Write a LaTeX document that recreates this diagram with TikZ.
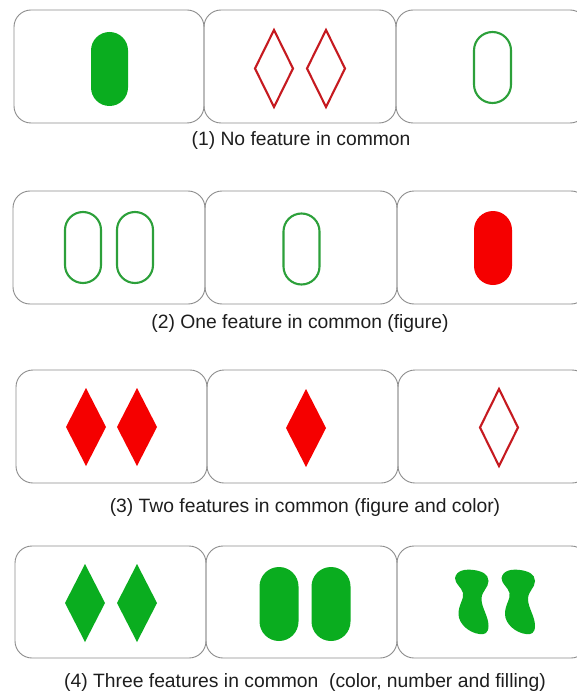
\documentclass[tikz,border=0pt]{standalone}
\usepackage{fontspec}
\setmainfont{Liberation Sans}
\definecolor{gfill}{RGB}{10,173,31}
\definecolor{gline}{RGB}{44,160,58}
\definecolor{rfill}{RGB}{245,0,0}
\definecolor{rline}{RGB}{198,26,32}
\definecolor{cardline}{RGB}{140,140,140}
\definecolor{captxt}{RGB}{30,30,30}
\tikzset{
  card/.style={draw=cardline, line width=0.9pt, rounded corners=17pt},
  caption/.style={inner sep=0pt, text=captxt, font=\fontsize{19.3}{22}\selectfont},
  outl/.style={line width=2.1pt},
}
% pill: #1 style, #2 cx, #3 cy, #4 width, #5 height
\newcommand\pillshape[5]{%
  \path[#1, rounded corners={#4*0.5pt-0.01pt}] ({#2-#4/2},{#3-#5/2}) rectangle ({#2+#4/2},{#3+#5/2});}
% diamond: #1 style, #2 cx, #3 cy, #4 width, #5 height
\newcommand\diashape[5]{%
  \path[#1, line join=miter] ({#2},{#3-#5/2}) -- ({#2+#4/2},{#3}) -- ({#2},{#3+#5/2}) -- ({#2-#4/2},{#3}) -- cycle;}
% squiggle: #1 style, #2 cx, #3 cy
\newcommand\squigshape[3]{%
  \path[#1, shift={(#2,#3)}]
    (-16.5,-24) .. controls (-15,-32) and (-6,-33) .. (2,-32)
    .. controls (10,-31) and (17,-28) .. (17,-21)
    .. controls (17,-14) and (10,-11) .. (10,-3)
    .. controls (10,6) and (17,14) .. (17,24)
    .. controls (17,31) and (13,33) .. (8,32)
    .. controls (-2,31) and (-13,22) .. (-13,12)
    .. controls (-13,2) and (-7,-3) .. (-8.5,-9)
    .. controls (-10,-15) and (-16.5,-18) .. (-16.5,-24) -- cycle;}
\begin{document}
\begin{tikzpicture}[x=1pt, y=-1pt]
\useasboundingbox (0,0) rectangle (577,695);
\fill[white] (0,0) rectangle (577,695);
% ---------- row 1
\draw[card] (14,10) rectangle (204,123);
\draw[card] (204,10) rectangle (396,123);
\draw[card] (396,10) rectangle (587,123);
\pillshape{fill=gfill}{109.5}{69}{37}{74}
\diashape{draw=rline, outl}{274}{68.5}{38}{77}
\diashape{draw=rline, outl}{326}{68.5}{38}{77}
\pillshape{draw=gline, outl}{492.5}{67.5}{37}{71}
\node[caption] (c1) at (301,141) {(1) No feature in common};
% ---------- row 2
\draw[card] (13,191) rectangle (205,304);
\draw[card] (205,191) rectangle (397,304);
\draw[card] (397,191) rectangle (588,304);
\pillshape{draw=gline, outl}{83}{247.5}{36}{71}
\pillshape{draw=gline, outl}{135}{247.5}{36}{71}
\pillshape{draw=gline, outl}{301.5}{249}{36}{71}
\pillshape{fill=rfill}{493}{248}{38}{74}
\node[caption] (c2) at (300,324) {(2) One feature in common (figure)};
% ---------- row 3
\draw[card] (16,370) rectangle (207,483);
\draw[card] (207,370) rectangle (398,483);
\draw[card] (398,370) rectangle (589,483);
\diashape{fill=rfill}{86}{427}{40}{78}
\diashape{fill=rfill}{137}{427}{40}{78}
\diashape{fill=rfill}{306}{428}{40}{78}
\diashape{draw=rline, outl}{499}{427.5}{38}{77}
\node[caption] (c3) at (305,508) {(3) Two features in common (figure and color)};
% ---------- row 4
\draw[card] (15,546) rectangle (206,658);
\draw[card] (206,546) rectangle (397,658);
\draw[card] (397,546) rectangle (588,658);
\diashape{fill=gfill}{85}{603}{40}{78}
\diashape{fill=gfill}{137}{603}{40}{78}
\pillshape{fill=gfill}{279}{604}{39}{74}
\pillshape{fill=gfill}{331}{604}{39}{74}
\squigshape{fill=gfill}{471.5}{602}
\squigshape{fill=gfill}{518}{602}
\node[caption] (c4) at (305,683) {(4) Three features in common\ \ (color, number and filling)};
\end{tikzpicture}
\end{document}
